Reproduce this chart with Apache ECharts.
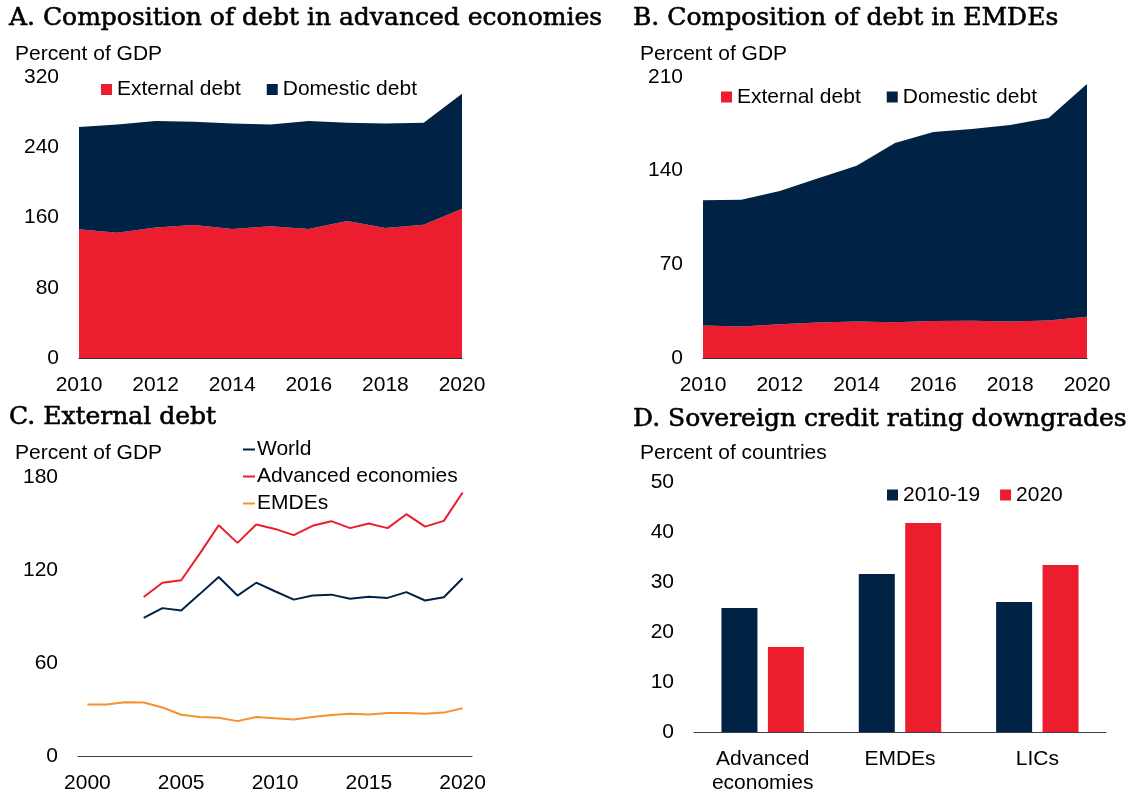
<!DOCTYPE html>
<html>
<head>
<meta charset="utf-8">
<script src="https://cdn.jsdelivr.net/npm/echarts@6/dist/echarts.min.js"></script>
<style>
  html, body { margin: 0; padding: 0; background: #fff; }
  #chart { width: 1131px; height: 795px; }
</style>
</head>
<body>
<div id="chart"></div>
<script>
// Panels A and B: debt composition, percent of GDP
const debtYears = ['2010','2011','2012','2013','2014','2015','2016','2017','2018','2019','2020'];
const aeExternal = [146.5, 142.5, 148.5, 151.5, 147, 150, 147, 156, 148, 151.7, 170];
const aeDomestic = [116.5, 123.5, 121.5, 117.5, 120, 116, 123, 112, 119, 116.3, 131];
const emdeExternal = [24.3, 23.6, 25.2, 26.5, 27.2, 26.7, 27.7, 27.8, 27.3, 28, 30.8];
const emdeDomestic = [93.6, 94.7, 99.6, 107.8, 116.5, 134, 141.2, 143.3, 146.8, 151.4, 174];

// Panel C: external debt, percent of GDP
const extYears = ['2000','2001','2002','2003','2004','2005','2006','2007','2008','2009','2010',
                  '2011','2012','2013','2014','2015','2016','2017','2018','2019','2020'];
const extWorld = [null, null, null, 89.1, 95.4, 93.8, 104.6, 115.5, 103.5, 111.8, 106.3,
                  100.9, 103.5, 104.1, 101.5, 102.8, 102, 105.7, 100.3, 102.4, 114.7];
const extAdvanced = [null, null, null, 102.6, 111.8, 113.4, 130.7, 148.9, 137.5, 149.3, 146.5,
                     142.5, 148.5, 151.5, 147, 150, 147, 156, 148, 151.7, 170];
const extEmdes = [33.2, 33.2, 34.7, 34.5, 31.3, 26.6, 25.1, 24.7, 22.5, 25.1, 24.3,
                  23.6, 25.2, 26.5, 27.2, 26.7, 27.7, 27.8, 27.3, 28, 30.8];

// Panel D: sovereign credit rating downgrades, percent of countries
const groups = ['Advanced\neconomies', 'EMDEs', 'LICs'];
const downgrades2010s = [24.8, 31.6, 26.0];
const downgrades2020 = [17.0, 41.8, 33.4];

const RED = '#EB1D2E';
const NAVY = '#002345';
const ORANGE = '#F7902D';
const SANS = 'Liberation Sans, Arial, sans-serif';
const SERIF = 'DejaVu Serif, serif';
const FS = 21;

// Panel headings: serif, slightly thickened with a thin outline in the same colour
const titleStyle = { fontFamily: SERIF, fontSize: 25, fontWeight: 'normal', color: '#000',
                     textBorderColor: '#000', textBorderWidth: 0.6 };
const unitStyle = { fontFamily: SANS, fontSize: FS, fontWeight: 'normal', color: '#000' };

function yAxis(gridIndex, max, interval) {
  return {
    type: 'value', gridIndex, min: 0, max, interval,
    axisLine: { show: false }, axisTick: { show: false }, splitLine: { show: false },
    axisLabel: { fontFamily: SANS, fontSize: FS, color: '#000', margin: 20 }
  };
}
function xAxis(gridIndex, data, gap, interval, lineColor) {
  return {
    type: 'category', gridIndex, data, boundaryGap: gap,
    axisLine: { show: true, lineStyle: { color: lineColor, width: 1 } },
    axisTick: { show: false },
    axisLabel: { fontFamily: SANS, fontSize: FS, color: '#000', margin: 15, interval, lineHeight: 24 }
  };
}
function area(name, data, color, xi, stack) {
  return {
    name, type: 'line', xAxisIndex: xi, yAxisIndex: xi, data, stack,
    symbol: 'none', lineStyle: { width: 0 }, areaStyle: { color, opacity: 1 },
    itemStyle: { color }, animation: false
  };
}
function line(name, data, color) {
  return {
    name, type: 'line', xAxisIndex: 2, yAxisIndex: 2, data,
    symbol: 'none', connectNulls: false, lineStyle: { width: 2, color },
    itemStyle: { color }, animation: false
  };
}
function bar(name, data, color) {
  return {
    name, type: 'bar', xAxisIndex: 3, yAxisIndex: 3, data,
    barWidth: 36, barGap: '29%', itemStyle: { color }, animation: false
  };
}

const legendText = { fontFamily: SANS, fontSize: FS, color: '#000' };

const chart = echarts.init(document.getElementById('chart'), null, { renderer: 'canvas' });
chart.setOption({
  backgroundColor: '#fff',
  animation: false,
  title: [
    { text: 'A. Composition of debt in advanced economies', left: 9, top: 6, padding: 0, textStyle: titleStyle },
    { text: 'B. Composition of debt in EMDEs', left: 633, top: 6, padding: 0, textStyle: titleStyle },
    { text: 'C. External debt', left: 9, top: 405, padding: 0, textStyle: titleStyle },
    { text: 'D. Sovereign credit rating downgrades', left: 633, top: 407, padding: 0, textStyle: titleStyle },
    { text: 'Percent of GDP', left: 15, top: 44, padding: 0, textStyle: unitStyle },
    { text: 'Percent of GDP', left: 640, top: 44, padding: 0, textStyle: unitStyle },
    { text: 'Percent of GDP', left: 15, top: 443, padding: 0, textStyle: unitStyle },
    { text: 'Percent of countries', left: 640, top: 443, padding: 0, textStyle: unitStyle }
  ],
  legend: [
    { data: ['External debt', 'Domestic debt'], left: 101, top: 79, padding: 0, itemGap: 26,
      itemWidth: 11, itemHeight: 11, icon: 'rect', selectedMode: false, textStyle: legendText },
    { data: ['External debt', 'Domestic debt'], left: 721, top: 86.5, padding: 0, itemGap: 26,
      itemWidth: 11, itemHeight: 11, icon: 'rect', selectedMode: false, textStyle: legendText },
    { data: ['World', 'Advanced economies', 'EMDEs'], orient: 'vertical', left: 243, top: 439,
      padding: 0, itemGap: 6, itemWidth: 12, itemHeight: 2, icon: 'rect', selectedMode: false,
      textStyle: Object.assign({ padding: [0, 0, 0, -3] }, legendText) },
    { data: ['2010-19', '2020'], left: 887, top: 484.5, padding: 0, itemGap: 20,
      itemWidth: 11, itemHeight: 11, icon: 'rect', selectedMode: false, textStyle: legendText }
  ],
  grid: [
    { left: 79, top: 77, width: 383, height: 281 },
    { left: 703, top: 77, width: 384, height: 281 },
    { left: 78, top: 477, width: 394, height: 281 },
    { left: 694, top: 482, width: 412, height: 251 }
  ],
  xAxis: [
    xAxis(0, debtYears, false, 1, '#333'),
    xAxis(1, debtYears, false, 1, '#333'),
    xAxis(2, extYears, true, 4, '#404040'),
    xAxis(3, groups, true, 0, '#404040')
  ],
  yAxis: [
    yAxis(0, 320, 80),
    yAxis(1, 210, 70),
    yAxis(2, 180, 60),
    yAxis(3, 50, 10)
  ],
  series: [
    area('External debt', aeExternal, RED, 0, 'ae'),
    area('Domestic debt', aeDomestic, NAVY, 0, 'ae'),
    area('External debt', emdeExternal, RED, 1, 'emde'),
    area('Domestic debt', emdeDomestic, NAVY, 1, 'emde'),
    line('World', extWorld, NAVY),
    line('Advanced economies', extAdvanced, RED),
    line('EMDEs', extEmdes, ORANGE),
    bar('2010-19', downgrades2010s, NAVY),
    bar('2020', downgrades2020, RED)
  ]
});
</script>
</body>
</html>
